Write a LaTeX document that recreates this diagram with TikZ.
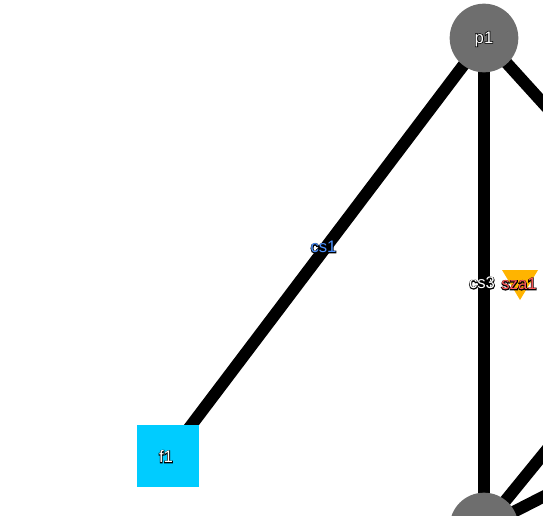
\documentclass[tikz,border=0pt]{standalone}
\usepackage{fontspec}
\setmainfont{Liberation Sans}
\definecolor{nodegrey}{HTML}{6E6E6E}
\definecolor{fcyan}{HTML}{00CCFF}
\definecolor{tri}{HTML}{FFB400}
\definecolor{csblue}{HTML}{4A90FF}
\definecolor{szared}{HTML}{FF5A5A}
\newcommand{\halotext}[2]{\rlap{\textcolor{black}{\special{pdf:code q 2 Tr 1.1 w 0 0 0 RG}#2\special{pdf:code Q}}}\textcolor{#1}{#2}}
\tikzset{
  edgeline/.style={line width=9pt,draw=black},
  pnode/.style={circle,fill=nodegrey,minimum size=51.5pt,inner sep=0pt},
  fnode/.style={rectangle,fill=fcyan,minimum size=46.5pt,inner sep=0pt},
  lab/.style={font=\fontsize{12.5pt}{12.5pt}\selectfont,inner sep=0pt}
}
\begin{document}
\begin{tikzpicture}[x=0.75pt,y=-0.75pt]
\useasboundingbox (0,0) rectangle (543,515);
\clip (0,0) rectangle (543,515);
\coordinate (c) at (620,188);
\coordinate (d) at (620,457.5);
\coordinate (e) at (620,360);
\coordinate (pa) at (484,38);
\coordinate (pb) at (484,527);
\coordinate (fa) at (168,456);
\draw[edgeline] (fa) -- (pa);
\draw[edgeline] (pa) -- (pb);
\draw[edgeline] (pa) -- (c);
\draw[edgeline] (pb) -- (e);
\draw[edgeline] (pb) -- (d);
\node[pnode] (p1) at (pa) {};
\node[pnode] (p2) at (pb) {};
\node[fnode] (f1) at (fa) {};
\fill[tri] (502,270) -- (538,270) -- (520,300) -- cycle;
\node[lab] at (484,39) {\halotext{white}{p1}};
\node[lab] at (166,456.5) {\halotext{white}{f1}};
\node[lab] at (323.5,247) {\halotext{csblue}{cs1}};
\node[lab] at (482,283) {\halotext{white}{cs3}};
\node[lab] at (519,284) {\halotext{szared}{sza1}};
\end{tikzpicture}
\end{document}
